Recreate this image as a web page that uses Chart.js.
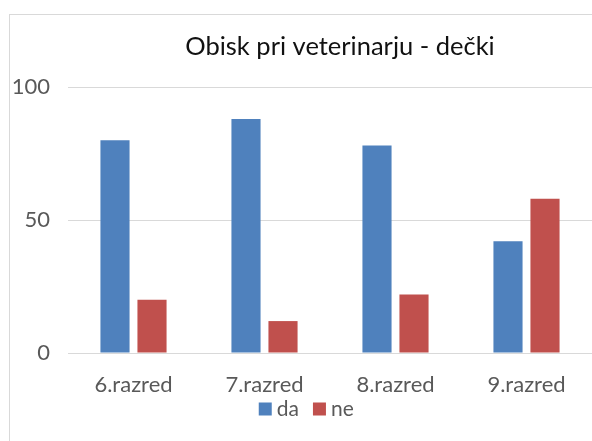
<!DOCTYPE html>
<html>
<head>
<meta charset="utf-8">
<script src="https://cdn.jsdelivr.net/npm/chart.js@4/dist/chart.umd.min.js"></script>
<style>
  html, body { margin: 0; padding: 0; background: #ffffff; overflow: hidden; }
  canvas { display: block; }
</style>
</head>
<body>
<canvas id="c" width="592" height="441"></canvas>
<script>
const titleText = 'Obisk pri veterinarju - dečki';
const categories = ['6.razred', '7.razred', '8.razred', '9.razred'];
const seriesNames = ['da', 'ne'];
const daValues = [80, 88, 78, 42];
const neValues = [20, 12, 22, 58];
const yMin = 0, yMax = 100, yStep = 50;

const FONT = 'Lato, "Open Sans", sans-serif';

const framePlugin = {
  id: 'frame',
  beforeDraw(chart) {
    const ctx = chart.ctx;
    ctx.save();
    ctx.fillStyle = '#ffffff';
    ctx.fillRect(0, 0, chart.width, chart.height);
    ctx.strokeStyle = '#d9d9d9';
    ctx.lineWidth = 1;
    ctx.strokeRect(9.5, 14.5, 800, 600);
    ctx.restore();
  },
  afterLayout(chart) {
    if (chart.titleBlock) { chart.titleBlock.left += 36; chart.titleBlock.right += 36; }
    if (chart.legend) {
      chart.legend.left += 5; chart.legend.right += 5;
      chart.legend.top -= 19.2; chart.legend.bottom -= 19.2;
    }
  }
};

new Chart(document.getElementById('c'), {
  type: 'bar',
  data: {
    labels: categories,
    datasets: [
      { label: seriesNames[0], data: daValues, backgroundColor: '#4F81BD', borderWidth: 0 },
      { label: seriesNames[1], data: neValues, backgroundColor: '#C0504D', borderWidth: 0 }
    ]
  },
  options: {
    responsive: false,
    devicePixelRatio: 1,
    animation: false,
    categoryPercentage: 0.565,
    barPercentage: 0.787,
    layout: { padding: { left: 9, right: -7, top: 14, bottom: -7.7 } },
    plugins: {
      title: {
        display: true,
        text: titleText,
        color: '#111111',
        font: { family: FONT, size: 25.5, weight: 'normal' },
        padding: { top: 17.7, bottom: 24.7 }
      },
      legend: {
        display: true,
        position: 'bottom',
        labels: {
          usePointStyle: true,
          pointStyle: 'rect',
          boxWidth: 2,
          boxHeight: 13,
          padding: 19.5,
          color: '#595959',
          font: { family: FONT, size: 21 }
        }
      },
      tooltip: { enabled: false }
    },
    scales: {
      x: {
        grid: { display: false, drawTicks: false },
        border: { display: false },
        ticks: { color: '#595959', padding: 18.8, font: { family: FONT, size: 22 } },
        afterFit(scale) { scale.height = 45.2; }
      },
      y: {
        min: yMin,
        max: yMax,
        grid: { color: '#d9d9d9', lineWidth: 1, drawTicks: false },
        border: { display: false },
        ticks: { stepSize: yStep, color: '#595959', padding: 18, font: { family: FONT, size: 22 } },
        afterFit(scale) { scale.width = 59; }
      }
    }
  },
  plugins: [framePlugin]
});
</script>
</body>
</html>
